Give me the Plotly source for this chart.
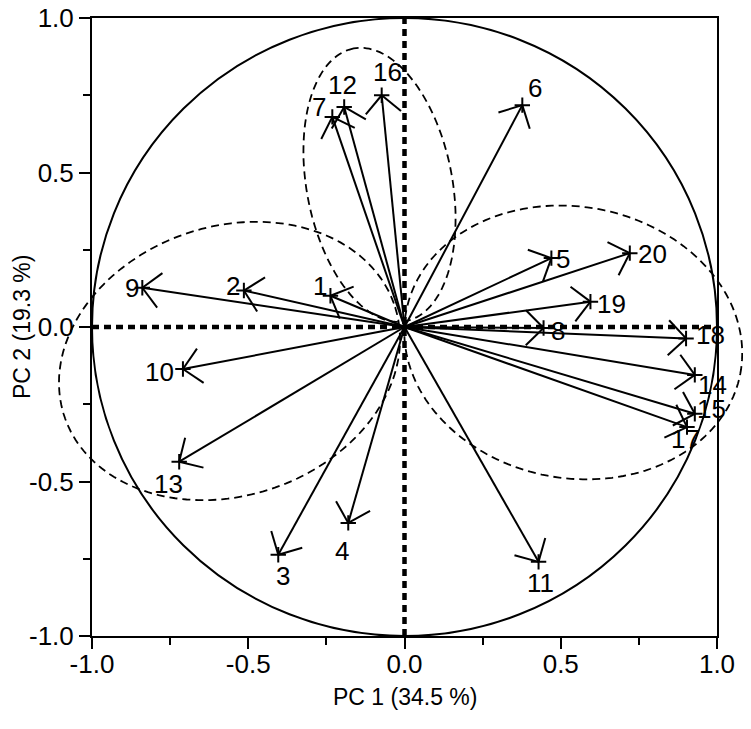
import numpy as np
import plotly.graph_objects as go

# loadings of the 20 variables on the first two principal components
variables: list[str] = [str(i) for i in range(1, 21)]
pc1: list[float] = [-0.237, -0.514, -0.404, -0.180, 0.470, 0.377, -0.231, 0.445, -0.839, -0.709,
                    0.429, -0.193, -0.721, 0.929, 0.929, -0.073, 0.904, 0.901, 0.595, 0.721]
pc2: list[float] = [0.101, 0.118, -0.737, -0.634, 0.223, 0.718, 0.680, -0.003, 0.127, -0.136,
                    -0.760, 0.712, -0.436, -0.155, -0.281, 0.750, -0.324, -0.037, 0.082, 0.239]

# dashed group ellipses: centre, semi axes, rotation (degrees)
groupCenterX: list[float] = [-0.56, -0.08, 0.54]
groupCenterY: list[float] = [-0.11, 0.46, -0.05]
groupMajor: list[float] = [0.558, 0.449, 0.544]
groupMinor: list[float] = [0.435, 0.233, 0.439]
groupAngle: list[float] = [19.5, 100.6, -10.8]

axisTicks: list[float] = [-1.0, -0.5, 0.0, 0.5, 1.0]
axisTickText: list[str] = ["-1.0", "-0.5", "0.0", "0.5", "1.0"]

# label offsets from the arrow tip, in pixels (x right, y down)
labelOffsets: dict = {
    "1": (-10, -10), "2": (-11, -5), "3": (5, 21), "4": (-6, 28), "5": (12, 1),
    "6": (13, -17), "7": (-13, -10), "8": (14, 3), "9": (-10, 0), "10": (-23, 3),
    "11": (2, 21), "12": (-2, -22), "13": (-11, 22), "14": (18, 10), "15": (17, -5),
    "16": (6, -23), "17": (-2, 12), "18": (24, -3), "19": (21, 2), "20": (23, 1),
}

FONT = "Arial, Liberation Sans, sans-serif"
BARB_LENGTH = 0.08
BARB_ANGLE = np.radians(45)


def rotate(vx: float, vy: float, angle: float) -> tuple[float, float]:
    c, s = np.cos(angle), np.sin(angle)
    return vx * c - vy * s, vx * s + vy * c


def ellipse_path(cx: float, cy: float, a: float, b: float, angle: float) -> str:
    t = np.linspace(0, 2 * np.pi, 181)
    phi = np.radians(angle)
    ex = cx + a * np.cos(t) * np.cos(phi) - b * np.sin(t) * np.sin(phi)
    ey = cy + a * np.cos(t) * np.sin(phi) + b * np.sin(t) * np.cos(phi)
    # paper coordinates so that the ellipses are not clipped at the frame
    px = (ex + 1) / 2
    py = (ey + 1) / 2
    points = [f"{x:.4f},{y:.4f}" for x, y in zip(px, py)]
    return "M" + " L".join(points) + " Z"


arrowX: list = []
arrowY: list = []

for x, y in zip(pc1, pc2):
    arrowX += [0, x, None]
    arrowY += [0, y, None]

    norm = np.hypot(x, y)
    ux, uy = -x / norm, -y / norm

    for sign in (1, -1):
        bx, by = rotate(ux, uy, sign * BARB_ANGLE)
        arrowX += [x, x + BARB_LENGTH * bx, None]
        arrowY += [y, y + BARB_LENGTH * by, None]

arrows = go.Scatter(
    x=arrowX,
    y=arrowY,
    mode="lines",
    line=dict(color="black", width=2),
    hoverinfo="skip"
)

tips = go.Scatter(
    x=pc1,
    y=pc2,
    text=variables,
    mode="markers",
    marker=dict(symbol="cross-thin", size=11, line=dict(color="black", width=2)),
    hoverinfo="text",
    cliponaxis=False
)

fig = go.Figure(data=[arrows, tips])

shapes: list[dict] = [
    dict(type="circle", xref="x", yref="y", x0=-1, y0=-1, x1=1, y1=1,
         line=dict(color="black", width=2), layer="below"),
    dict(type="line", xref="x", yref="y", x0=-1, y0=0, x1=1, y1=0,
         line=dict(color="black", width=4.5, dash="7px,5px"), layer="below"),
    dict(type="line", xref="x", yref="y", x0=0, y0=-1, x1=0, y1=1,
         line=dict(color="black", width=4.5, dash="7px,5px"), layer="below"),
]

for cx, cy, a, b, angle in zip(groupCenterX, groupCenterY, groupMajor, groupMinor, groupAngle):
    shapes.append(dict(
        type="path", xref="paper", yref="paper",
        path=ellipse_path(cx, cy, a, b, angle),
        line=dict(color="black", width=1.8, dash="8px,5px")
    ))

annotations: list[dict] = []

for name, x, y in zip(variables, pc1, pc2):
    dx, dy = labelOffsets[name]
    annotations.append(dict(
        x=x, y=y, xref="x", yref="y", text=name, showarrow=False,
        xshift=dx, yshift=-dy, font=dict(family=FONT, size=26, color="black")
    ))

# axis titles placed by hand
annotations.append(dict(
    x=0, y=0.5, xref="paper", yref="paper", xshift=-70, text="PC 2 (19.3 %)",
    textangle=-90, showarrow=False, xanchor="center", yanchor="middle",
    font=dict(family=FONT, size=23, color="black")
))
annotations.append(dict(
    x=0.5, y=0, xref="paper", yref="paper", yshift=-61, text="PC 1 (34.5 %)",
    showarrow=False, xanchor="center", yanchor="middle",
    font=dict(family=FONT, size=23, color="black")
))

# the page adds an 8px body margin, so the figure is sized to fit inside the window
fig.update_layout(
    width=735,
    height=713,
    margin=dict(l=84, r=26, t=10, b=85),
    paper_bgcolor="white",
    plot_bgcolor="white",
    showlegend=False,
    shapes=shapes,
    annotations=annotations,
    font=dict(family=FONT, size=25, color="black")
)

axisStyle = dict(
    range=[-1, 1],
    tickvals=axisTicks,
    ticktext=axisTickText,
    ticks="outside",
    ticklen=11,
    tickwidth=2,
    tickcolor="black",
    tickfont=dict(family=FONT, size=26, color="black"),
    ticklabeloverflow="allow",
    minor=dict(dtick=0.25, tick0=-1, ticks="outside", ticklen=7, tickwidth=2, tickcolor="black"),
    showline=True,
    linecolor="black",
    linewidth=2,
    mirror=True,
    showgrid=False,
    zeroline=False,
    automargin=False,
)

fig.update_xaxes(**axisStyle, ticklabelstandoff=-7)
fig.update_yaxes(**axisStyle)

fig.write_html("out.html")
